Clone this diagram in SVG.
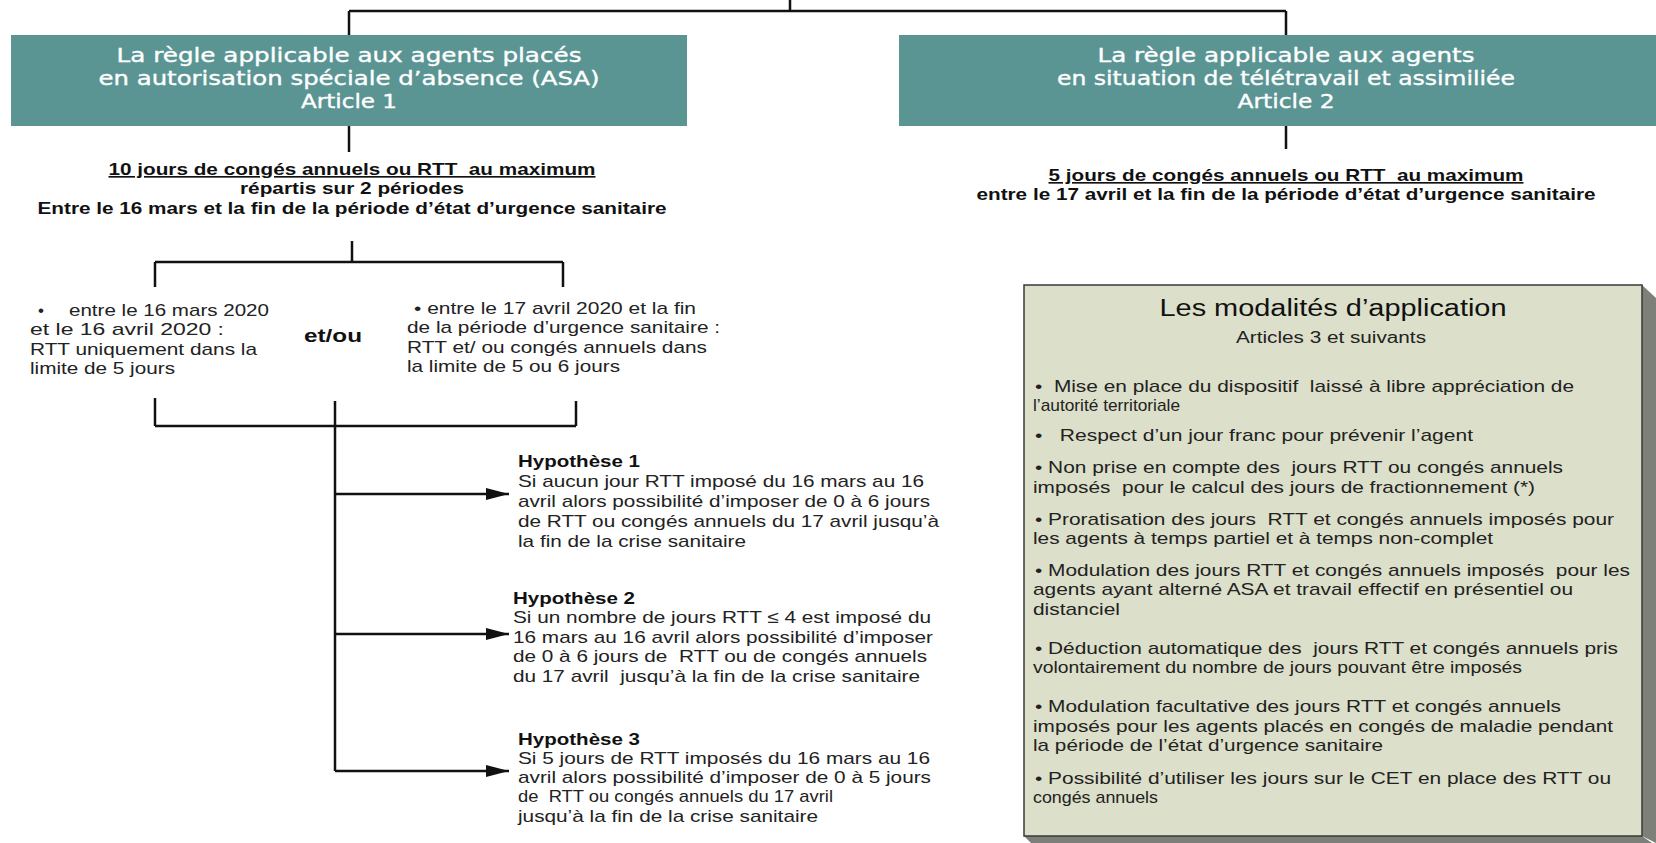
<svg xmlns="http://www.w3.org/2000/svg" width="1656" height="843" viewBox="0 0 1656 843">
<style>
.ln{stroke:#111;stroke-width:2.5;fill:none}
.box{fill:#5a9594}
.bt{font-family:"DejaVu Sans",sans-serif;font-size:19px;fill:#fff;text-anchor:middle;stroke:#fff;stroke-width:0.35}
.sh{font-family:"Liberation Sans",Arial,sans-serif;font-size:16.5px;font-weight:bold;fill:#111;text-anchor:middle;white-space:pre}
.tx{font-family:"Liberation Sans",Arial,sans-serif;font-size:17px;fill:#222;white-space:pre}
.hb{font-family:"Liberation Sans",Arial,sans-serif;font-size:17px;font-weight:bold;fill:#111;white-space:pre}
.pt{font-family:"Liberation Sans",Arial,sans-serif;font-size:17px;fill:#222;white-space:pre}
</style>
<defs>
<marker id="ah" markerUnits="userSpaceOnUse" markerWidth="24" markerHeight="14" refX="23" refY="7" orient="auto">
<path d="M0,1 L23,7 L0,13 Z" fill="#111"/>
</marker>
</defs>
<rect width="1656" height="843" fill="#fff"/>

<g id="connectors">
<path class="ln" d="M790,0 V11 M349,11 H1286 M349,11 V35 M1286,11 V35"/>
<path class="ln" d="M349,126 V152 M1286,126 V149"/>
<path class="ln" d="M352,241 V262 M155,262 H563 M155,262 V287 M563,262 V287"/>
<path class="ln" d="M155,398 V426 M576,401 V426 M155,426 H576 M335,401 V771"/>
<path class="ln" d="M335,494 H509" marker-end="url(#ah)"/>
<path class="ln" d="M335,634 H509" marker-end="url(#ah)"/>
<path class="ln" d="M335,771 H509" marker-end="url(#ah)"/>
</g>

<g id="node-asa">
<rect class="box" x="11" y="35" width="676" height="91"/>
<text class="bt" x="349" y="62" textLength="465" lengthAdjust="spacingAndGlyphs">La règle applicable aux agents placés</text>
<text class="bt" x="349" y="85" textLength="501" lengthAdjust="spacingAndGlyphs">en autorisation spéciale d’absence (ASA)</text>
<text class="bt" x="349" y="108" textLength="96" lengthAdjust="spacingAndGlyphs">Article 1</text>
</g>

<g id="node-teletravail">
<rect class="box" x="899" y="35" width="757" height="91"/>
<text class="bt" x="1286" y="62" textLength="377" lengthAdjust="spacingAndGlyphs">La règle applicable aux agents</text>
<text class="bt" x="1286" y="85" textLength="458" lengthAdjust="spacingAndGlyphs">en situation de télétravail et assimiliée</text>
<text class="bt" x="1286" y="108" textLength="97" lengthAdjust="spacingAndGlyphs">Article 2</text>
</g>

<g id="node-asa-rule">
<text class="sh" x="352" y="175" textLength="487" lengthAdjust="spacingAndGlyphs" text-decoration="underline">10 jours de congés annuels ou RTT  au maximum</text>
<text class="sh" x="352" y="194" textLength="224" lengthAdjust="spacingAndGlyphs">répartis sur 2 périodes</text>
<text class="sh" x="352" y="214" textLength="629" lengthAdjust="spacingAndGlyphs">Entre le 16 mars et la fin de la période d’état d’urgence sanitaire</text>
</g>

<g id="node-tele-rule">
<text class="sh" x="1286" y="181" textLength="475" lengthAdjust="spacingAndGlyphs" text-decoration="underline">5 jours de congés annuels ou RTT  au maximum</text>
<text class="sh" x="1286" y="200" textLength="619" lengthAdjust="spacingAndGlyphs">entre le 17 avril et la fin de la période d’état d’urgence sanitaire</text>
</g>

<g id="node-period1">
<text class="tx" x="38" y="316">•</text>
<text class="tx" x="69" y="316" textLength="200" lengthAdjust="spacingAndGlyphs">entre le 16 mars 2020</text>
<text class="tx" x="30" y="335" textLength="194" lengthAdjust="spacingAndGlyphs">et le 16 avril 2020 :</text>
<text class="tx" x="30" y="355" textLength="227" lengthAdjust="spacingAndGlyphs">RTT uniquement dans la</text>
<text class="tx" x="30" y="374" textLength="145" lengthAdjust="spacingAndGlyphs">limite de 5 jours</text>
</g>

<g id="node-etou">
<text x="304" y="342" font-family="Liberation Sans, Arial, sans-serif" font-size="19" font-weight="bold" fill="#111" textLength="58" lengthAdjust="spacingAndGlyphs">et/ou</text>
</g>

<g id="node-period2">
<text class="tx" x="414" y="314" textLength="282" lengthAdjust="spacingAndGlyphs">• entre le 17 avril 2020 et la fin</text>
<text class="tx" x="407" y="333" textLength="313" lengthAdjust="spacingAndGlyphs">de la période d’urgence sanitaire :</text>
<text class="tx" x="407" y="353" textLength="300" lengthAdjust="spacingAndGlyphs">RTT et/ ou congés annuels dans</text>
<text class="tx" x="407" y="372" textLength="213" lengthAdjust="spacingAndGlyphs">la limite de 5 ou 6 jours</text>
</g>

<g id="node-hyp1">
<text class="hb" x="518" y="467" textLength="122" lengthAdjust="spacingAndGlyphs">Hypothèse 1</text>
<text class="tx" x="518" y="487" textLength="406" lengthAdjust="spacingAndGlyphs">Si aucun jour RTT imposé du 16 mars au 16</text>
<text class="tx" x="518" y="507" textLength="412" lengthAdjust="spacingAndGlyphs">avril alors possibilité d’imposer de 0 à 6 jours</text>
<text class="tx" x="518" y="527" textLength="421" lengthAdjust="spacingAndGlyphs">de RTT ou congés annuels du 17 avril jusqu’à</text>
<text class="tx" x="518" y="547" textLength="228" lengthAdjust="spacingAndGlyphs">la fin de la crise sanitaire</text>
</g>

<g id="node-hyp2">
<text class="hb" x="513" y="604" textLength="122" lengthAdjust="spacingAndGlyphs">Hypothèse 2</text>
<text class="tx" x="513" y="623" textLength="418" lengthAdjust="spacingAndGlyphs">Si un nombre de jours RTT ≤ 4 est imposé du</text>
<text class="tx" x="513" y="643" textLength="420" lengthAdjust="spacingAndGlyphs">16 mars au 16 avril alors possibilité d’imposer</text>
<text class="tx" x="513" y="662" textLength="414" lengthAdjust="spacingAndGlyphs">de 0 à 6 jours de  RTT ou de congés annuels</text>
<text class="tx" x="513" y="682" textLength="407" lengthAdjust="spacingAndGlyphs">du 17 avril  jusqu’à la fin de la crise sanitaire</text>
</g>

<g id="node-hyp3">
<text class="hb" x="518" y="745" textLength="122" lengthAdjust="spacingAndGlyphs">Hypothèse 3</text>
<text class="tx" x="518" y="764" textLength="412" lengthAdjust="spacingAndGlyphs">Si 5 jours de RTT imposés du 16 mars au 16</text>
<text class="tx" x="518" y="783" textLength="413" lengthAdjust="spacingAndGlyphs">avril alors possibilité d’imposer de 0 à 5 jours</text>
<text class="tx" x="518" y="802" textLength="315" lengthAdjust="spacingAndGlyphs">de  RTT ou congés annuels du 17 avril</text>
<text class="tx" x="518" y="822" textLength="300" lengthAdjust="spacingAndGlyphs">jusqu’à la fin de la crise sanitaire</text>
</g>

<g id="node-modalites">
<polygon points="1642,285 1656,298 1656,843 1642,836" fill="#7d8078"/>
<polygon points="1024,836 1642,836 1652,843 1031,843" fill="#7d8078"/>
<rect x="1024" y="285" width="618" height="551" fill="#dcdfc9" stroke="#3a3a3a" stroke-width="1.5"/>
<text x="1333" y="316" font-family="Liberation Sans, Arial, sans-serif" font-size="23" fill="#111" text-anchor="middle" textLength="347" lengthAdjust="spacingAndGlyphs">Les modalités d’application</text>
<text x="1331" y="343" font-family="Liberation Sans, Arial, sans-serif" font-size="16" fill="#222" text-anchor="middle" textLength="190" lengthAdjust="spacingAndGlyphs">Articles 3 et suivants</text>
<text class="pt" x="1035" y="392" textLength="539" lengthAdjust="spacingAndGlyphs">•  Mise en place du dispositif  laissé à libre appréciation de</text>
<text class="pt" x="1033" y="411" textLength="147" lengthAdjust="spacingAndGlyphs">l’autorité territoriale</text>
<text class="pt" x="1035" y="441" textLength="438" lengthAdjust="spacingAndGlyphs">•   Respect d’un jour franc pour prévenir l’agent</text>
<text class="pt" x="1035" y="473" textLength="528" lengthAdjust="spacingAndGlyphs">• Non prise en compte des  jours RTT ou congés annuels</text>
<text class="pt" x="1033" y="493" textLength="502" lengthAdjust="spacingAndGlyphs">imposés  pour le calcul des jours de fractionnement (*)</text>
<text class="pt" x="1035" y="525" textLength="579" lengthAdjust="spacingAndGlyphs">• Proratisation des jours  RTT et congés annuels imposés pour</text>
<text class="pt" x="1033" y="544" textLength="460" lengthAdjust="spacingAndGlyphs">les agents à temps partiel et à temps non-complet</text>
<text class="pt" x="1035" y="576" textLength="595" lengthAdjust="spacingAndGlyphs">• Modulation des jours RTT et congés annuels imposés  pour les</text>
<text class="pt" x="1033" y="595" textLength="540" lengthAdjust="spacingAndGlyphs">agents ayant alterné ASA et travail effectif en présentiel ou</text>
<text class="pt" x="1033" y="615" textLength="87" lengthAdjust="spacingAndGlyphs">distanciel</text>
<text class="pt" x="1035" y="654" textLength="583" lengthAdjust="spacingAndGlyphs">• Déduction automatique des  jours RTT et congés annuels pris</text>
<text class="pt" x="1033" y="673" textLength="489" lengthAdjust="spacingAndGlyphs">volontairement du nombre de jours pouvant être imposés</text>
<text class="pt" x="1035" y="712" textLength="526" lengthAdjust="spacingAndGlyphs">• Modulation facultative des jours RTT et congés annuels</text>
<text class="pt" x="1033" y="732" textLength="580" lengthAdjust="spacingAndGlyphs">imposés pour les agents placés en congés de maladie pendant</text>
<text class="pt" x="1033" y="751" textLength="350" lengthAdjust="spacingAndGlyphs">la période de l’état d’urgence sanitaire</text>
<text class="pt" x="1035" y="784" textLength="576" lengthAdjust="spacingAndGlyphs">• Possibilité d’utiliser les jours sur le CET en place des RTT ou</text>
<text class="pt" x="1033" y="803" textLength="125" lengthAdjust="spacingAndGlyphs">congés annuels</text>
</g>
</svg>
